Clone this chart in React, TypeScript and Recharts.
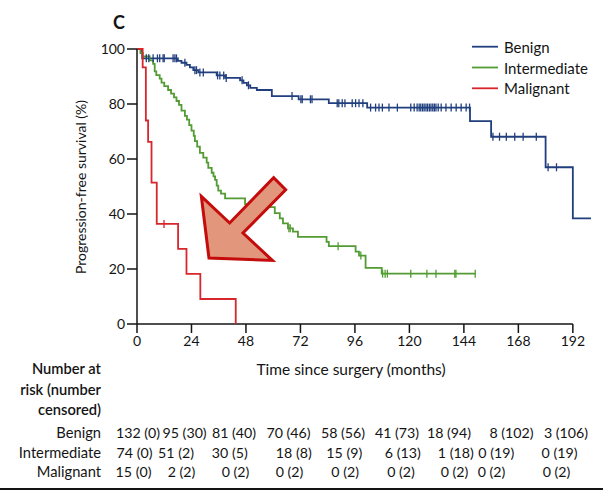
import { ComposedChart, Line, ReferenceLine, Scatter, XAxis, YAxis } from "recharts";

const W = 603;
const H = 491;
const FONT = "Lato, 'Noto Sans', sans-serif";
const INK = "#141414";

const BLUE = "#213f7e";
const GREEN = "#529c33";
const RED = "#d7272c";

const MONTH_TICKS = [0, 24, 48, 72, 96, 120, 144, 168, 192];
const PCT_TICKS = [0, 20, 40, 60, 80, 100];

// Kaplan-Meier steps: [month, % progression-free]
const benignSteps: [number, number][] = [
  [0, 100], [1.8, 98.5], [2.3, 96.6], [18, 95.7], [19.6, 95.0], [21.8, 94.2],
  [23.3, 93.3], [24.8, 92.3], [27, 91.5], [35.1, 90.4], [38.8, 89.5],
  [45.4, 88.6], [46.9, 87.7], [48.4, 86.8], [49.9, 85.9], [52.8, 85.1],
  [59.4, 82.9], [71.2, 81.7], [84.5, 80.3], [101.4, 78.7], [146.7, 73.8],
  [156, 68.1], [180, 57.0], [192, 38.4], [200, 38.4],
];

const intermediateSteps: [number, number][] = [
  [0, 100], [1.5, 98.6], [2.5, 97.3], [5.6, 95.9], [7.1, 94.6], [7.8, 91.9],
  [8.5, 90.5], [10, 89.2], [10.8, 87.8], [12, 86.5], [13.7, 85.1], [15, 83.8],
  [16.3, 82.4], [17.4, 81.1], [18.5, 79.7], [19.6, 77.6], [21.1, 75.7],
  [22, 74.3], [23, 72.3], [24, 70.3], [25, 68.4], [25.5, 66.5], [26.5, 64.5],
  [27.7, 62.2], [29.2, 60.5], [30.7, 58.7], [31.4, 56.8], [32.9, 55.0],
  [33.7, 53.7], [34.4, 52.4], [35.1, 50.3], [35.8, 48.5], [37, 47.4],
  [38.8, 45.7], [47.6, 43.6], [58.5, 42.5], [60.7, 40.3], [62.9, 38.4],
  [64.3, 36.6], [66.5, 34.8], [68.7, 33.6], [70.9, 31.7], [83.5, 29.9],
  [84.5, 28.3], [96.3, 26.3], [97.8, 24.9], [100.7, 20.4], [107.8, 18.3],
  [149, 18.3],
];

const malignantSteps: [number, number][] = [
  [0, 100], [2.5, 93.3], [3.9, 74.0], [4.9, 66.2], [6.4, 51.4], [8.7, 36.4],
  [18.1, 27.3], [21.8, 18.2], [27.9, 9.1], [43.5, 0],
];

// censoring times (months)
const benignCensored = [
  4.1, 5.2, 7.1, 9.0, 10.0, 11.5, 12.0, 15.9, 16.7, 17.4, 21.1, 25.5, 26.2,
  27.7, 29.2, 35.5, 36.5, 38.2, 39.3, 46.3, 49.1, 68.3, 72.2, 72.8, 76.4, 77.1,
  88.2, 88.9, 90.4, 91.6, 94.8, 96.3, 97.8, 99.5, 102.9, 105.1, 106.6, 108.1,
  111, 114.7, 120.6, 122.1, 123.4, 124.3, 125, 125.8, 126.5, 127.3, 128, 128.8,
  129.5, 130.3, 131, 131.7, 132.7, 134, 136.1, 138.4, 140.6, 142.8, 145, 146.5,
  156.8, 159.7, 162.7, 166.4, 170.1, 175.9, 181.1, 184.8,
];
const intermediateCensored = [
  66.9, 67.5, 88.6, 98.6, 108.2, 109.3, 110.3, 120.6, 127.7, 131.7, 140, 140.5, 149,
];
const malignantCensored = [11.9];

const RISK_LABELS = ["Benign", "Intermediate", "Malignant"];
const riskBenign = ["132 (0)", "95 (30)", "81 (40)", "70 (46)", "58 (56)", "41 (73)", "18 (94)", "8 (102)", "3 (106)"];
const riskIntermediate = ["74 (0)", "51 (2)", "30 (5)", "18 (8)", "15 (9)", "6 (13)", "1 (18)", "0 (19)", "0 (19)"];
const riskMalignant = ["15 (0)", "2 (2)", "0 (2)", "0 (2)", "0 (2)", "0 (2)", "0 (2)", "0 (2)", "0 (2)"];

// centre of each number-at-risk cell, per row (hand-spaced columns)
const RISK_COL_X = [
  [138, 184.6, 234, 288.5, 343, 397, 449, 511.5, 566],
  [134.5, 176, 229.8, 293.8, 344.3, 402.8, 455.8, 496.3, 559.5],
  [133.5, 181.5, 235.5, 289.5, 345.2, 401, 454.5, 491.5, 556.5],
];
const RISK_ROW_Y = [432, 452, 471];
const TABLE_FS = 14.2;

// arrow annotation: tip position in data units
const arrowTip = [{ t: 31.7, s: 24 }];

const toPoints = (steps: [number, number][]) => steps.map(([t, s]) => ({ t, s }));

function survivalAt(steps: [number, number][], t: number) {
  let s = steps[0][1];
  for (const [st, sv] of steps) {
    if (st <= t) s = sv;
  }
  return s;
}

const toMarks = (steps: [number, number][], times: number[]) =>
  times.map((t) => ({ t, s: survivalAt(steps, t) }));

const censorTick = (color: string) => (props: any) => {
  const { cx, cy } = props;
  return <line x1={cx} x2={cx} y1={cy - 4} y2={cy + 4} stroke={color} strokeWidth={1.3} />;
};

function ArrowShape(props: any) {
  const { cx, cy } = props;
  const pts = [
    [-7.6, -61.6], [20.7, -35], [64.7, -80.3], [76.7, -68.3], [34, -25], [63.4, 2.4], [0, 0],
  ]
    .map(([dx, dy]) => `${cx + dx},${cy + dy}`)
    .join(" ");
  return <polygon points={pts} fill="#e2977c" stroke="#c40c0c" strokeWidth={3} strokeLinejoin="miter" />;
}

const SERIES = [
  { name: "Benign", color: BLUE, steps: benignSteps, censored: benignCensored },
  { name: "Intermediate", color: GREEN, steps: intermediateSteps, censored: intermediateCensored },
  { name: "Malignant", color: RED, steps: malignantSteps, censored: malignantCensored },
];

export default function App() {
  const riskRows = [riskBenign, riskIntermediate, riskMalignant];
  return (
    <div style={{ position: "absolute", left: 0, top: 0, width: W, height: H, background: "#fff", fontFamily: FONT }}>
      <ComposedChart width={W} height={H} margin={{ top: 49, right: 12, bottom: 137, left: 0 }}>
        <XAxis
          dataKey="t"
          type="number"
          domain={[0, 200]}
          ticks={MONTH_TICKS}
          interval={0}
          axisLine={false}
          tickLine={{ stroke: INK, strokeWidth: 1.5 }}
          tickSize={9}
          tickMargin={3}
          tick={{ fontSize: 14, fill: INK, fontFamily: FONT }}
          height={30}
        />
        <YAxis
          type="number"
          domain={[0, 100]}
          ticks={PCT_TICKS}
          interval={0}
          width={137}
          axisLine={{ stroke: INK, strokeWidth: 1.5 }}
          tickLine={{ stroke: INK, strokeWidth: 1.5 }}
          tickSize={10}
          tick={{ fontSize: 14, fill: INK, fontFamily: FONT }}
        />
        <ReferenceLine
          segment={[{ x: 0, y: 0 }, { x: 192, y: 0 }]}
          stroke={INK}
          strokeWidth={1.5}
          ifOverflow="visible"
        />
        {SERIES.map((sr) => (
          <Line
            key={sr.name}
            data={toPoints(sr.steps)}
            dataKey="s"
            type="stepAfter"
            stroke={sr.color}
            strokeWidth={1.8}
            dot={false}
            activeDot={false}
            isAnimationActive={false}
          />
        ))}
        {SERIES.map((sr) => (
          <Scatter
            key={sr.name + "-censored"}
            data={toMarks(sr.steps, sr.censored)}
            dataKey="s"
            shape={censorTick(sr.color)}
            isAnimationActive={false}
          />
        ))}
        <Scatter data={arrowTip} dataKey="s" shape={ArrowShape} isAnimationActive={false} />
      </ComposedChart>

      <svg width={W} height={H} style={{ position: "absolute", left: 0, top: 0, pointerEvents: "none" }}>
        <g fontFamily={FONT} fill={INK}>
          <text x={119} y={22} fontSize={18} fontWeight={700} textAnchor="middle" dominantBaseline="central">
            C
          </text>
          <text
            x={80}
            y={187}
            fontSize={14}
            textAnchor="middle"
            dominantBaseline="central"
            transform="rotate(-90 80 187)"
          >
            Progression-free survival (%)
          </text>
          <text x={351} y={369} fontSize={15.5} textAnchor="middle" dominantBaseline="central">
            Time since surgery (months)
          </text>

          {SERIES.map((sr, i) => (
            <g key={sr.name}>
              <line x1={472} x2={498} y1={46.7 + i * 20.8} y2={46.7 + i * 20.8} stroke={sr.color} strokeWidth={1.8} />
              <text x={504} y={46.7 + i * 20.8} fontSize={15} dominantBaseline="central">
                {sr.name}
              </text>
            </g>
          ))}

          {["Number at", "risk (number", "censored)"].map((s, i) => (
            <text key={s} x={101} y={368 + i * 20.5} fontSize={TABLE_FS + 0.5} fontWeight={600} textAnchor="end" dominantBaseline="central">
              {s}
            </text>
          ))}
          {RISK_LABELS.map((lab, r) => (
            <g key={lab}>
              <text x={101} y={RISK_ROW_Y[r]} fontSize={TABLE_FS + 0.5} textAnchor="end" dominantBaseline="central">
                {lab}
              </text>
              {riskRows[r].map((cell, c) => (
                <text
                  key={c}
                  x={RISK_COL_X[r][c]}
                  y={RISK_ROW_Y[r]}
                  fontSize={TABLE_FS}
                  textAnchor="middle"
                  dominantBaseline="central"
                >
                  {cell}
                </text>
              ))}
            </g>
          ))}
        </g>
        <line x1={0} x2={W} y1={489} y2={489} stroke={INK} strokeWidth={2} />
      </svg>
    </div>
  );
}
